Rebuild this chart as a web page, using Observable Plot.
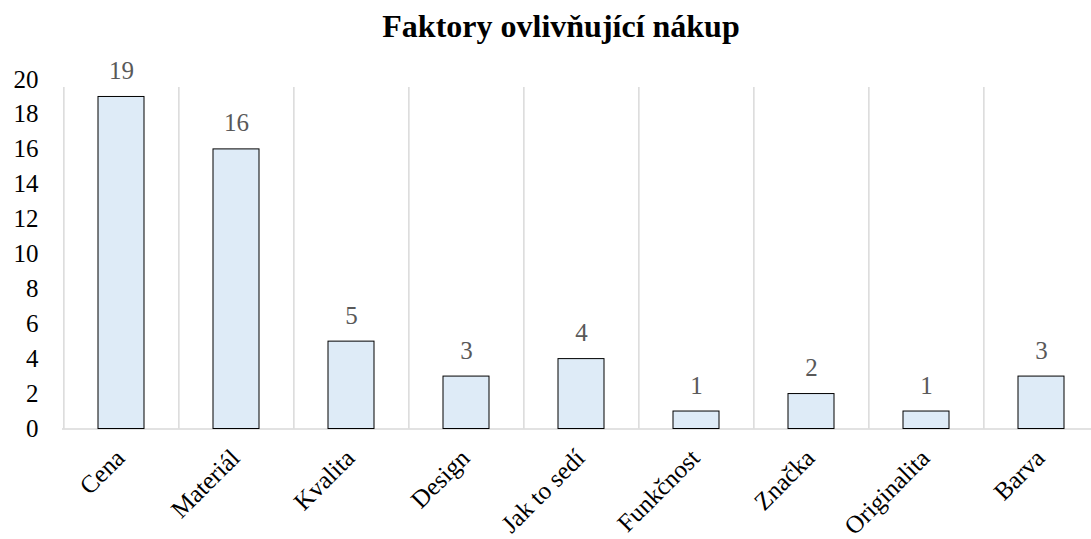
<!DOCTYPE html>
<html>
<head>
<meta charset="utf-8">
<script src="https://cdn.jsdelivr.net/npm/d3@7"></script>
<script src="https://cdn.jsdelivr.net/npm/@observablehq/plot@0.6"></script>
<style>
  html, body { margin: 0; padding: 0; background: #fff; }
  #title {
    width: 1091px; height: 50px; box-sizing: border-box;
    padding-left: 31px; padding-top: 6px;
    text-align: center; font-family: "Liberation Serif", "Times New Roman", serif;
    font-weight: bold; font-size: 32px; line-height: 40px; color: #000;
  }
  #chart svg { display: block; }
  #chart svg text { font-family: "Liberation Serif", "Times New Roman", serif; }
</style>
</head>
<body>
<div id="title">Faktory ovlivňující nákup</div>
<div id="chart"></div>
<script>
const categories = ["Cena", "Materiál", "Kvalita", "Design", "Jak to sedí", "Funkčnost", "Značka", "Originalita", "Barva"];
const values = [19, 16, 5, 3, 4, 1, 2, 1, 3];
const yTicks = [0, 2, 4, 6, 8, 10, 12, 14, 16, 18, 20];

const data = categories.map((c, i) => ({category: c, value: values[i]}));

const W = 1091, H = 489;
const xRange = [62, 1099.5];
const step = (xRange[1] - xRange[0]) / categories.length;
const serif = "'Liberation Serif', 'Times New Roman', serif";

const chart = Plot.plot({
  width: W,
  height: H,
  marginLeft: 62,
  marginRight: 0,
  marginTop: 29,
  marginBottom: 110.5,
  style: {fontFamily: serif, fontSize: "25px", background: "#fff", overflow: "visible"},
  x: {domain: categories, range: xRange, paddingInner: 0.6, paddingOuter: 0.3, label: null},
  y: {domain: [0, 20], label: null},
  marks: [
    Plot.ruleX(categories, {x: d => d, y1: 0, y2: 20, dx: -step / 2, insetBottom: -8, stroke: "#d9d9d9", strokeWidth: 1.5}),
    Plot.ruleY([0], {stroke: "#d9d9d9", strokeWidth: 1.5}),
    Plot.barY(data, {x: "category", y: "value", fill: "#deebf7", stroke: "#000", strokeWidth: 1}),
    Plot.text(data, {x: "category", y: "value", text: d => String(d.value), dy: -26, fill: "#595959", fontSize: 25, fontFamily: serif}),
    Plot.axisY({ticks: yTicks, tickSize: 0, tickPadding: 24, fontSize: 25, fontFamily: serif, fill: "#000", tickFormat: d => String(d)}),
    Plot.axisX({tickSize: 0, tickPadding: 16, dx: -1, dy: 9, tickRotate: -45, fontSize: 25, fontFamily: serif, fill: "#000"})
  ]
});
document.getElementById("chart").appendChild(chart);
</script>
</body>
</html>
